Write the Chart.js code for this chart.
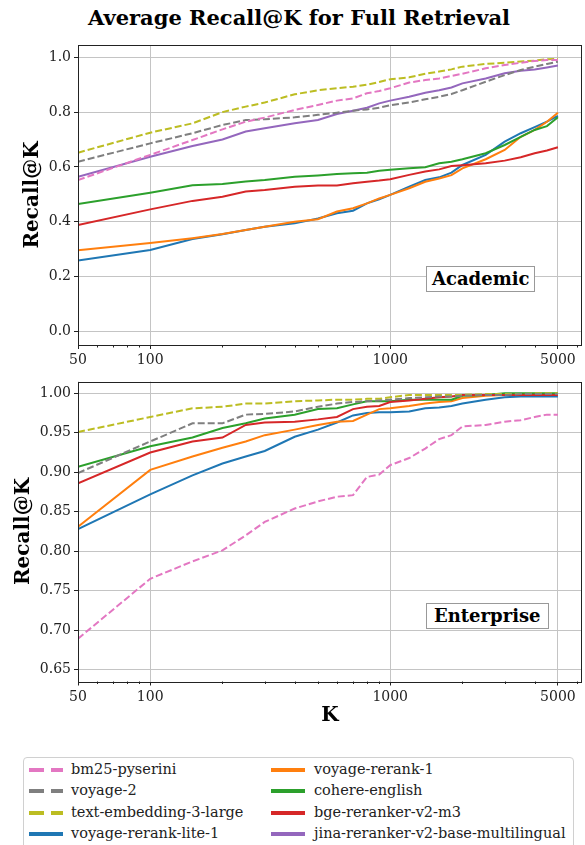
<!DOCTYPE html>
<html lang="en">
<head>
    <meta charset="UTF-8">
    <title>Average Recall@K for Full Retrieval</title>
    <script src="https://cdn.jsdelivr.net/npm/chart.js"></script>
    <style>
        body { margin: 0; background: #fff; font-family: "DejaVu Serif", serif; }
        #wrap { position: relative; width: 585px; height: 845px; overflow: hidden; }
        #title { position: absolute; top: 4px; left: 299px; transform: translateX(-50%); white-space: nowrap;
                 font-weight: bold; font-size: 21px; line-height: 28px; }
        .panel { position: absolute; left: 0; width: 585px; }
        .tag { position: absolute; background: #fff; border: 1px solid #999; font-weight: bold; font-size: 18px;
               padding: 0 5px; line-height: 24px; }
        #legend { position: absolute; left: 23px; top: 757px; width: 549px; height: 100px;
                  border: 1px solid #d0d0d0; border-radius: 4px; font-size: 14.5px; color: #222; }
        .item { position: absolute; height: 20px; line-height: 20px; white-space: nowrap; }
        .item svg { position: absolute; left: 0; top: 8px; }
        .item span { position: absolute; top: -1px; }
    </style>
</head>
<body>
<div id="wrap">
    <div id="title">Average Recall@K for Full Retrieval</div>
    <div class="panel" style="top:0;height:370px"><canvas id="academicChart" width="585" height="370"></canvas></div>
    <div class="panel" style="top:370px;height:375px"><canvas id="enterpriseChart" width="585" height="375"></canvas></div>
    <div class="tag" style="left:426px;top:266px">Academic</div>
    <div class="tag" style="left:426px;top:603px;padding:0 7px">Enterprise</div>
    <div id="legend"></div>
</div>

<script>
    // K values on the x axis
    const kValues = [50, 100, 150, 200, 250, 300, 400, 500, 600, 700, 800, 900, 1000,
        1200, 1400, 1600, 1800, 2000, 2500, 3000, 3500, 4000, 4500, 5000];

    // Academic
    const acBm25 = [0.552, 0.644, 0.698, 0.737, 0.765, 0.780, 0.808, 0.826, 0.842, 0.850, 0.869, 0.877, 0.887,
        0.908, 0.917, 0.923, 0.932, 0.940, 0.960, 0.972, 0.980, 0.987, 0.990, 0.990];
    const acVoyage2 = [0.619, 0.686, 0.723, 0.753, 0.771, 0.774, 0.781, 0.790, 0.798, 0.805, 0.810, 0.816, 0.825,
        0.835, 0.847, 0.856, 0.866, 0.880, 0.911, 0.935, 0.954, 0.966, 0.976, 0.984];
    const acTe3 = [0.652, 0.725, 0.759, 0.800, 0.820, 0.835, 0.865, 0.880, 0.887, 0.893, 0.900, 0.910, 0.920,
        0.927, 0.940, 0.948, 0.956, 0.966, 0.976, 0.980, 0.985, 0.988, 0.993, 0.995];
    const acLite = [0.258, 0.297, 0.337, 0.354, 0.370, 0.382, 0.394, 0.412, 0.431, 0.440, 0.467, 0.482, 0.498,
        0.528, 0.552, 0.562, 0.579, 0.607, 0.644, 0.692, 0.723, 0.745, 0.765, 0.786];
    const acRerank1 = [0.296, 0.322, 0.340, 0.355, 0.370, 0.382, 0.400, 0.409, 0.437, 0.449, 0.467, 0.485, 0.498,
        0.522, 0.546, 0.558, 0.570, 0.595, 0.628, 0.662, 0.710, 0.735, 0.765, 0.798];
    const acCohere = [0.465, 0.506, 0.533, 0.538, 0.547, 0.552, 0.564, 0.569, 0.574, 0.577, 0.579, 0.586, 0.590,
        0.595, 0.599, 0.613, 0.619, 0.628, 0.650, 0.680, 0.710, 0.735, 0.749, 0.781];
    const acBge = [0.388, 0.445, 0.476, 0.491, 0.510, 0.516, 0.528, 0.532, 0.532, 0.540, 0.546, 0.550, 0.555,
        0.571, 0.583, 0.591, 0.603, 0.606, 0.613, 0.623, 0.635, 0.650, 0.660, 0.672];
    const acJina = [0.564, 0.637, 0.676, 0.700, 0.729, 0.741, 0.759, 0.771, 0.793, 0.805, 0.816, 0.832, 0.842,
        0.856, 0.871, 0.880, 0.890, 0.905, 0.923, 0.942, 0.951, 0.956, 0.963, 0.970];

    // Enterprise (jina not plotted here)
    const enBm25 = [0.689, 0.765, 0.787, 0.801, 0.820, 0.837, 0.854, 0.863, 0.869, 0.871, 0.894, 0.897, 0.909,
        0.918, 0.930, 0.942, 0.947, 0.958, 0.960, 0.964, 0.966, 0.970, 0.973, 0.973];
    const enVoyage2 = [0.899, 0.939, 0.962, 0.962, 0.973, 0.974, 0.977, 0.983, 0.987, 0.989, 0.990, 0.991, 0.992,
        0.994, 0.995, 0.996, 0.996, 0.997, 0.998, 0.998, 0.999, 0.999, 0.999, 0.999];
    const enTe3 = [0.951, 0.970, 0.981, 0.983, 0.987, 0.987, 0.990, 0.991, 0.992, 0.992, 0.993, 0.993, 0.995,
        0.998, 0.998, 0.998, 0.998, 0.998, 0.999, 0.999, 0.999, 1.000, 1.000, 1.000];
    const enLite = [0.828, 0.872, 0.896, 0.911, 0.920, 0.927, 0.945, 0.954, 0.963, 0.972, 0.975, 0.976, 0.976,
        0.977, 0.981, 0.982, 0.984, 0.987, 0.992, 0.995, 0.996, 0.996, 0.996, 0.996];
    const enRerank1 = [0.831, 0.903, 0.920, 0.931, 0.939, 0.947, 0.954, 0.960, 0.964, 0.965, 0.973, 0.980, 0.981,
        0.984, 0.987, 0.989, 0.990, 0.994, 0.997, 0.998, 0.998, 0.998, 0.998, 0.998];
    const enCohere = [0.907, 0.933, 0.944, 0.956, 0.962, 0.968, 0.973, 0.980, 0.981, 0.986, 0.990, 0.990, 0.990,
        0.992, 0.992, 0.992, 0.992, 0.997, 0.998, 1.000, 1.000, 1.000, 1.000, 1.000];
    const enBge = [0.886, 0.925, 0.939, 0.944, 0.960, 0.963, 0.964, 0.967, 0.970, 0.980, 0.983, 0.984, 0.989,
        0.991, 0.993, 0.995, 0.996, 0.998, 0.998, 0.998, 0.998, 0.998, 0.998, 0.998];
    const enJina = [];

    // axis ticks
    const xLabelTicks = [50, 100, 1000, 5000];
    const xMinorTicks = [60, 70, 80, 90, 200, 300, 400, 500, 600, 700, 800, 900, 2000, 3000, 4000, 6000];
    const academicYTicks = [0.0, 0.2, 0.4, 0.6, 0.8, 1.0];
    const enterpriseYTicks = [0.65, 0.70, 0.75, 0.80, 0.85, 0.90, 0.95, 1.00];

    const models = [
        { name: 'bm25-pyserini', color: '#e377c2', dashed: true, ac: acBm25, en: enBm25 },
        { name: 'voyage-2', color: '#7f7f7f', dashed: true, ac: acVoyage2, en: enVoyage2 },
        { name: 'text-embedding-3-large', color: '#bcbd22', dashed: true, ac: acTe3, en: enTe3 },
        { name: 'voyage-rerank-lite-1', color: '#1f77b4', dashed: false, ac: acLite, en: enLite },
        { name: 'voyage-rerank-1', color: '#ff7f0e', dashed: false, ac: acRerank1, en: enRerank1 },
        { name: 'cohere-english', color: '#2ca02c', dashed: false, ac: acCohere, en: enCohere },
        { name: 'bge-reranker-v2-m3', color: '#d62728', dashed: false, ac: acBge, en: enBge },
        { name: 'jina-reranker-v2-base-multilingual', color: '#9467bd', dashed: false, ac: acJina, en: enJina }
    ];

    const serif = '"DejaVu Serif", serif';

    // black box around the plot area (matplotlib spines) + short minor ticks on the log axis
    const frame = {
        id: 'frame',
        afterDraw(chart) {
            const a = chart.chartArea, ctx = chart.ctx, x = chart.scales.x;
            ctx.save();
            ctx.strokeStyle = '#222';
            ctx.lineWidth = 1;
            ctx.strokeRect(Math.round(a.left) + 0.5, Math.round(a.top) + 0.5,
                Math.round(a.right - a.left) - 1, Math.round(a.bottom - a.top));
            ctx.beginPath();
            xMinorTicks.forEach(v => {
                const px = Math.round(x.getPixelForValue(v)) + 0.5;
                ctx.moveTo(px, a.bottom);
                ctx.lineTo(px, a.bottom + 2.5);
            });
            ctx.stroke();
            ctx.restore();
        }
    };

    function makeChart(id, key, y, opts) {
        const datasets = models.map((m, i) => ({
            label: m.name,
            data: m[key].map((v, j) => ({ x: kValues[j], y: v })),
            borderColor: m.color,
            borderWidth: 2,
            borderDash: m.dashed ? [7, 3] : [],
            pointRadius: 0,
            fill: false,
            order: m.dashed ? 0 : 10 - i
        }));

        return new Chart(document.getElementById(id).getContext('2d'), {
            type: 'line',
            data: { datasets },
            plugins: [frame],
            options: {
                responsive: false,
                animation: false,
                events: [],
                layout: { padding: { top: opts.padTop, right: 3, left: 0, bottom: 0 } },
                plugins: { legend: { display: false }, tooltip: { enabled: false } },
                scales: {
                    x: {
                        type: 'logarithmic',
                        min: 50,
                        max: 6300,
                        afterBuildTicks: s => { s.ticks = xLabelTicks.map(v => ({ value: v })); },
                        afterFit: s => { s.height = opts.xHeight; },
                        border: { display: false },
                        grid: { color: '#c4c4c4', tickColor: '#222', tickLength: 4, lineWidth: 1 },
                        ticks: {
                            autoSkip: false,
                            maxRotation: 0,
                            padding: 3,
                            color: '#222',
                            font: { family: serif, size: 14 },
                            callback: v => String(v)
                        },
                        title: opts.xTitle ? {
                            display: true, text: 'K', color: '#000',
                            font: { family: serif, size: 20, weight: 'bold' },
                            padding: { top: 0, bottom: 17 }
                        } : { display: false }
                    },
                    y: {
                        min: y.min,
                        max: y.max,
                        afterBuildTicks: s => { s.ticks = y.ticks.map(v => ({ value: v })); },
                        afterFit: s => { s.width = 78; },
                        border: { display: false },
                        grid: { color: '#c4c4c4', tickColor: '#222', tickLength: 4, lineWidth: 1 },
                        ticks: {
                            padding: 3,
                            color: '#222',
                            font: { family: serif, size: 14 },
                            callback: v => v.toFixed(y.digits)
                        },
                        title: {
                            display: true, text: 'Recall@K', color: '#000',
                            font: { family: serif, size: 20, weight: 'bold' },
                            padding: { top: opts.yTitlePad, bottom: 0 }
                        }
                    }
                }
            }
        });
    }

    makeChart('academicChart', 'ac',
        { min: -0.05, max: 1.045, ticks: academicYTicks, digits: 1 },
        { padTop: 45, xHeight: 25, xTitle: false, yTitlePad: 21 });

    makeChart('enterpriseChart', 'en',
        { min: 0.6348, max: 1.015, ticks: enterpriseYTicks, digits: 2 },
        { padTop: 11.5, xHeight: 63.5, xTitle: true, yTitlePad: 11.5 });

    // shared legend, two columns filled top to bottom
    const legend = document.getElementById('legend');
    models.forEach((m, i) => {
        const col = Math.floor(i / 4), row = i % 4;
        const item = document.createElement('div');
        item.className = 'item';
        item.style.left = (col === 0 ? 5 : 247) + 'px';
        item.style.top = (2 + row * 21.4) + 'px';
        const dash = m.dashed ? 'stroke-dasharray="15 7"' : '';
        item.innerHTML = '<svg width="34" height="4"><line x1="0" y1="2" x2="34" y2="2" stroke="' + m.color +
            '" stroke-width="4" ' + dash + '/></svg><span style="left:' + (col === 0 ? 42 : 43) + 'px">' + m.name + '</span>';
        legend.appendChild(item);
    });
</script>
</body>
</html>
